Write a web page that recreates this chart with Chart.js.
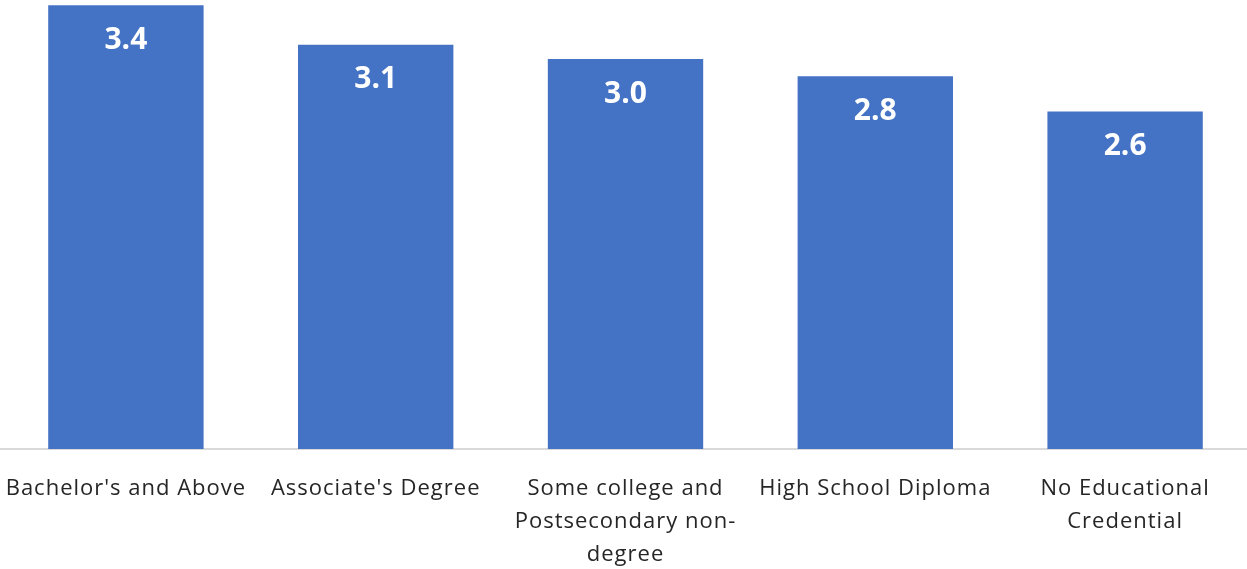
<!DOCTYPE html>
<html>
<head>
<meta charset="utf-8">
<script src="https://cdn.jsdelivr.net/npm/chart.js@4"></script>
<style>
  html, body { margin: 0; padding: 0; background: #fff; overflow: hidden; }
  #wrap { width: 1247px; height: 569px; overflow: hidden; }
</style>
</head>
<body>
<div id="wrap"><canvas id="chart" width="1250" height="569"></canvas></div>
<script>
// categories (multi-line like the original)
const categories = [
  ["Bachelor's and Above"],
  ["Associate's Degree"],
  ["Some college and", "Postsecondary non-", "degree"],
  ["High School Diploma"],
  ["No Educational", "Credential"]
];
const values = [3.38, 3.08, 2.97, 2.84, 2.57];

// wider letter spacing for the axis labels, like the original
const tickSpacing = {
  id: 'tickSpacing',
  beforeDraw(chart) { chart.ctx.letterSpacing = '1px'; },
  beforeDatasetsDraw(chart) { chart.ctx.letterSpacing = '0px'; }
};

// draw value labels inside the top of each bar
const barLabels = {
  id: 'barLabels',
  afterDatasetsDraw(chart) {
    const ctx = chart.ctx;
    const meta = chart.getDatasetMeta(0);
    ctx.save();
    ctx.fillStyle = '#ffffff';
    ctx.font = 'bold 30px "Open Sans"';
    ctx.textAlign = 'center';
    ctx.textBaseline = 'middle';
    meta.data.forEach((bar, i) => {
      ctx.fillText(values[i].toFixed(1), bar.x, bar.y + 35);
    });
    ctx.restore();
  }
};

new Chart(document.getElementById('chart'), {
  type: 'bar',
  data: {
    labels: categories,
    datasets: [{
      data: values,
      backgroundColor: '#4472C4',
      categoryPercentage: 1,
      barPercentage: 0.622
    }]
  },
  options: {
    responsive: false,
    animation: false,
    layout: { padding: { left: 1, right: 0, top: 0, bottom: 0 } },
    plugins: { legend: { display: false }, tooltip: { enabled: false } },
    scales: {
      y: { display: false, min: 0, max: 3.42 },
      x: {
        grid: { display: false, drawTicks: false },
        border: { color: '#d9d9d9', width: 2 },
        ticks: {
          color: '#262626',
          font: { family: 'Open Sans', size: 22, lineHeight: 1.5 },
          padding: 23,
          maxRotation: 0,
          autoSkip: false
        },
        afterFit(scale) {
          scale.height = 120;
          scale.paddingLeft = 0;
          scale.paddingRight = 0;
        }
      }
    }
  },
  plugins: [tickSpacing, barLabels]
});
</script>
</body>
</html>
